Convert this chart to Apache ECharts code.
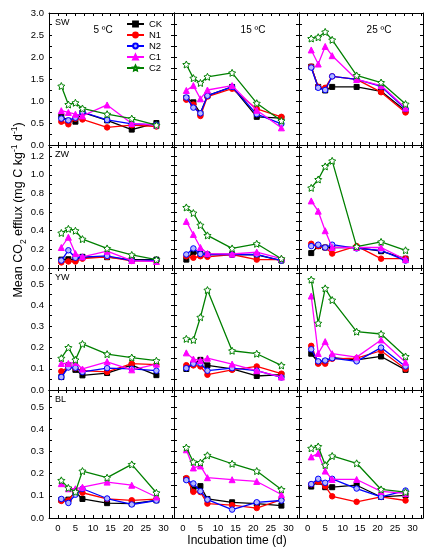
<!DOCTYPE html>
<html>
<head>
<meta charset="utf-8">
<script src="https://cdn.jsdelivr.net/npm/echarts@6/dist/echarts.min.js"></script>
<style>
  html, body { margin: 0; padding: 0; background: #fff; }
  #chart { width: 435px; height: 550px; }
</style>
</head>
<body>
<div id="chart"></div>
<script>
// ---- data ----
const days = [1, 3, 5, 7, 14, 21, 28];
const rowNames = ['SW', 'ZW', 'YW', 'BL'];
const tempNames = ['5 ºC', '15 ºC', '25 ºC'];
const seriesNames = ['CK', 'N1', 'N2', 'C1', 'C2'];
const xTickLabels = [0, 5, 10, 15, 20, 25, 30];

// each panel: [CK, N1, N2, C1, C2]
const SW_5 = [
  [0.65, 0.55, 0.53, 0.74, 0.56, 0.35, 0.50],
  [0.53, 0.47, 0.60, 0.58, 0.40, 0.45, 0.42],
  [0.60, 0.56, 0.62, 0.75, 0.57, 0.48, 0.46],
  [0.78, 0.74, 0.70, 0.66, 0.91, 0.49, 0.45],
  [1.34, 0.92, 0.96, 0.83, 0.70, 0.60, 0.45]
];
const SW_15 = [
  [1.07, 0.97, 0.72, 1.12, 1.32, 0.64, 0.61],
  [1.03, 0.92, 0.66, 1.10, 1.28, 0.82, 0.64],
  [1.08, 0.85, 0.72, 1.12, 1.32, 0.70, 0.48],
  [1.24, 1.35, 1.05, 1.25, 1.35, 0.79, 0.39],
  [1.83, 1.52, 1.41, 1.55, 1.64, 0.95, 0.55]
];
const SW_25 = [
  [1.78, 1.32, 1.24, 1.32, 1.32, 1.22, 0.78],
  [1.78, 1.32, 1.30, 1.56, 1.49, 1.20, 0.74],
  [1.76, 1.30, 1.25, 1.56, 1.49, 1.33, 0.82],
  [2.16, 1.84, 2.24, 2.03, 1.49, 1.35, 0.84],
  [2.42, 2.45, 2.57, 2.39, 1.58, 1.42, 0.93]
];
const ZW_5 = [
  [0.090, 0.094, 0.087, 0.120, 0.116, 0.090, 0.090],
  [0.060, 0.070, 0.070, 0.100, 0.120, 0.076, 0.076],
  [0.080, 0.190, 0.110, 0.116, 0.130, 0.080, 0.083],
  [0.220, 0.330, 0.155, 0.120, 0.180, 0.080, 0.070],
  [0.376, 0.420, 0.400, 0.310, 0.210, 0.140, 0.090]
];
const ZW_15 = [
  [0.090, 0.170, 0.150, 0.145, 0.145, 0.140, 0.080],
  [0.126, 0.110, 0.126, 0.120, 0.145, 0.090, 0.090],
  [0.145, 0.210, 0.150, 0.145, 0.145, 0.145, 0.080],
  [0.500, 0.360, 0.220, 0.155, 0.150, 0.170, 0.100],
  [0.650, 0.590, 0.460, 0.350, 0.210, 0.260, 0.100]
];
const ZW_25 = [
  [0.160, 0.235, 0.220, 0.220, 0.220, 0.180, 0.100],
  [0.260, 0.235, 0.220, 0.155, 0.235, 0.100, 0.100],
  [0.235, 0.250, 0.220, 0.250, 0.210, 0.190, 0.080],
  [0.720, 0.610, 0.400, 0.220, 0.220, 0.220, 0.090],
  [0.860, 0.950, 1.090, 1.150, 0.230, 0.280, 0.190]
];
const YW_5 = [
  [0.061, 0.116, 0.095, 0.069, 0.080, 0.117, 0.070],
  [0.088, 0.108, 0.103, 0.091, 0.085, 0.124, 0.120],
  [0.061, 0.106, 0.105, 0.085, 0.103, 0.100, 0.091],
  [0.125, 0.125, 0.130, 0.099, 0.133, 0.095, 0.122],
  [0.150, 0.200, 0.142, 0.217, 0.169, 0.153, 0.138]
];
const YW_15 = [
  [0.099, 0.124, 0.142, 0.116, 0.100, 0.066, 0.072],
  [0.117, 0.116, 0.111, 0.072, 0.095, 0.111, 0.077],
  [0.103, 0.124, 0.125, 0.091, 0.103, 0.091, 0.059],
  [0.175, 0.146, 0.139, 0.150, 0.122, 0.091, 0.061],
  [0.241, 0.236, 0.343, 0.471, 0.185, 0.171, 0.116]
];
const YW_25 = [
  [0.171, 0.131, 0.135, 0.153, 0.142, 0.158, 0.095],
  [0.208, 0.124, 0.124, 0.147, 0.150, 0.185, 0.099],
  [0.192, 0.135, 0.139, 0.150, 0.135, 0.200, 0.111],
  [0.443, 0.172, 0.228, 0.171, 0.155, 0.236, 0.131],
  [0.520, 0.315, 0.479, 0.424, 0.275, 0.264, 0.158]
];
const BL_5 = [
  [0.082, 0.083, 0.117, 0.086, 0.067, 0.065, 0.080],
  [0.077, 0.079, 0.121, 0.114, 0.086, 0.080, 0.085],
  [0.086, 0.068, 0.105, 0.132, 0.088, 0.061, 0.079],
  [0.155, 0.132, 0.132, 0.139, 0.162, 0.148, 0.095],
  [0.170, 0.136, 0.118, 0.212, 0.182, 0.242, 0.114]
];
const BL_15 = [
  [0.177, 0.129, 0.144, 0.086, 0.071, 0.065, 0.056],
  [0.180, 0.118, 0.117, 0.065, 0.058, 0.045, 0.083],
  [0.171, 0.156, 0.121, 0.083, 0.038, 0.071, 0.079],
  [0.308, 0.226, 0.235, 0.182, 0.173, 0.165, 0.106],
  [0.318, 0.253, 0.250, 0.283, 0.245, 0.212, 0.129]
];
const BL_25 = [
  [0.142, 0.164, 0.139, 0.139, 0.148, 0.095, 0.102],
  [0.152, 0.164, 0.144, 0.098, 0.073, 0.095, 0.079],
  [0.153, 0.177, 0.159, 0.177, 0.133, 0.095, 0.124],
  [0.276, 0.292, 0.212, 0.174, 0.174, 0.120, 0.111],
  [0.315, 0.323, 0.239, 0.280, 0.247, 0.129, 0.117]
];
const panels = [
  [SW_5, SW_15, SW_25],
  [ZW_5, ZW_15, ZW_25],
  [YW_5, YW_15, YW_25],
  [BL_5, BL_15, BL_25]
];
// y-axis scale per row
const yMax = [3.0, 1.32, 0.575, 0.578];
const yLabelStep = [0.5, 0.2, 0.1, 0.1];

// ---- layout / style ----
const FONT = '"Liberation Sans", Arial, sans-serif';
const colLeft = [49, 174, 299];
const colW = [125, 125, 124];
const rowTop = [13, 145, 268, 390];
const rowH = [132, 123, 122, 128];
const STAR = 'path://M0,-10L2.94,-4.05L9.51,-3.09L4.76,1.55L5.88,8.09L0,5L-5.88,8.09L-4.76,1.55L-9.51,-3.09L-2.94,-4.05Z';
const styles = [
  { color: '#000000', symbol: 'rect', size: 5, fill: '#000000' },
  { color: '#ff0000', symbol: 'circle', size: 5.5, fill: '#ff0000' },
  { color: '#0000ff', symbol: 'circle', size: 5.5, fill: '#b4b8ff' },
  { color: '#ff00ff', symbol: 'triangle', size: 6, fill: '#ff00ff' },
  { color: '#008000', symbol: STAR, size: 7, fill: '#ffffff' }
];

function isMultiple(v, step) {
  const r = v / step;
  return Math.abs(r - Math.round(r)) < 1e-6;
}

const grids = [], xAxes = [], yAxes = [], xAxesTop = [], yAxesRight = [], series = [], graphics = [];

for (let r = 0; r < 4; r++) {
  for (let c = 0; c < 3; c++) {
    const g = r * 3 + c;
    grids.push({ left: colLeft[c], top: rowTop[r], width: colW[c], height: rowH[r], containLabel: false });
    const xCommon = {
      gridIndex: g, type: 'value', min: -2.5, max: 33, interval: 2.5,
      axisLine: { show: true, onZero: false, lineStyle: { color: '#000', width: 1 } },
      axisTick: { show: true, inside: true, length: 3, lineStyle: { color: '#000' } },
      splitLine: { show: false }
    };
    xAxes.push(Object.assign({}, xCommon, {
      position: 'bottom',
      axisLabel: {
        show: r === 3, fontFamily: FONT, fontSize: 9.5, color: '#000', margin: 5,
        formatter: v => (xTickLabels.indexOf(Math.round(v * 100) / 100) >= 0 ? String(Math.round(v)) : '')
      }
    }));
    xAxesTop.push(Object.assign({}, xCommon, { position: 'top', axisLabel: { show: false } }));
    const half = yLabelStep[r] / 2;
    const yCommon = {
      gridIndex: g, type: 'value', min: 0, max: yMax[r], interval: half,
      axisLine: { show: true, onZero: false, lineStyle: { color: '#000', width: 1 } },
      axisTick: { show: true, inside: true, length: 3, lineStyle: { color: '#000' } },
      splitLine: { show: false }
    };
    yAxes.push(Object.assign({}, yCommon, {
      position: 'left',
      axisLabel: {
        show: c === 0, fontFamily: FONT, fontSize: 9.5, color: '#000', margin: 5,
        formatter: v => (isMultiple(v, yLabelStep[r]) && v <= yMax[r] + 1e-9 ? v.toFixed(1) : '')
      }
    }));
    yAxesRight.push(Object.assign({}, yCommon, { position: 'right', axisLabel: { show: false } }));

    const panel = panels[r][c];
    for (let s = 0; s < 5; s++) {
      const st = styles[s];
      series.push({
        type: 'line', name: seriesNames[s], xAxisIndex: g, yAxisIndex: g,
        data: days.map((d, i) => [d, panel[s][i]]),
        symbol: st.symbol, symbolSize: st.size, showSymbol: true,
        color: st.color,
        lineStyle: { color: st.color, width: 1.3, type: 'solid' },
        itemStyle: { color: st.fill, borderColor: st.color, borderWidth: 1 },
        emphasis: { disabled: true },
        animation: false, z: 2 + s
      });
    }
    if (c === 0) {
      graphics.push({
        type: 'text', left: colLeft[c] + 6, top: rowTop[r] + 5,
        style: { text: rowNames[r], font: '9px ' + FONT, fill: '#000' }
      });
    }
    if (r === 0) {
      const tx = [103, 253, 379][c];
      graphics.push({
        type: 'text', x: tx, y: 30,
        style: { text: tempNames[c], font: '10px ' + FONT, fill: '#000', align: 'center', verticalAlign: 'middle' }
      });
    }
  }
}

// axis titles
graphics.push({
  type: 'text', x: 19, y: 210, rotation: Math.PI / 2,
  style: {
    text: 'Mean CO{sub|2} efflux (mg C kg{sup|-1} d{sup|-1})',
    fontFamily: FONT, fontSize: 12.5, fill: '#000', lineHeight: 18,
    align: 'center', verticalAlign: 'middle',
    rich: {
      sub: { fontFamily: FONT, fontSize: 8.5, fill: '#000', verticalAlign: 'bottom' },
      sup: { fontFamily: FONT, fontSize: 8.5, fill: '#000', verticalAlign: 'top' }
    }
  }
});
graphics.push({
  type: 'text', x: 237, y: 541,
  style: { text: 'Incubation time (d)', font: '12px ' + FONT, fill: '#000', align: 'center', verticalAlign: 'middle' }
});

const chart = echarts.init(document.getElementById('chart'), null, { renderer: 'canvas' });
chart.setOption({
  backgroundColor: '#ffffff',
  animation: false,
  grid: grids,
  xAxis: xAxes.concat(xAxesTop),
  yAxis: yAxes.concat(yAxesRight),
  legend: {
    data: seriesNames, orient: 'vertical', left: 126, top: 19,
    itemWidth: 17, itemHeight: 6, itemGap: 1, padding: 0,
    textStyle: { fontFamily: FONT, fontSize: 9.5, color: '#000', lineHeight: 10 },
    selectedMode: false
  },
  series: series,
  graphic: graphics
});
</script>
</body>
</html>
